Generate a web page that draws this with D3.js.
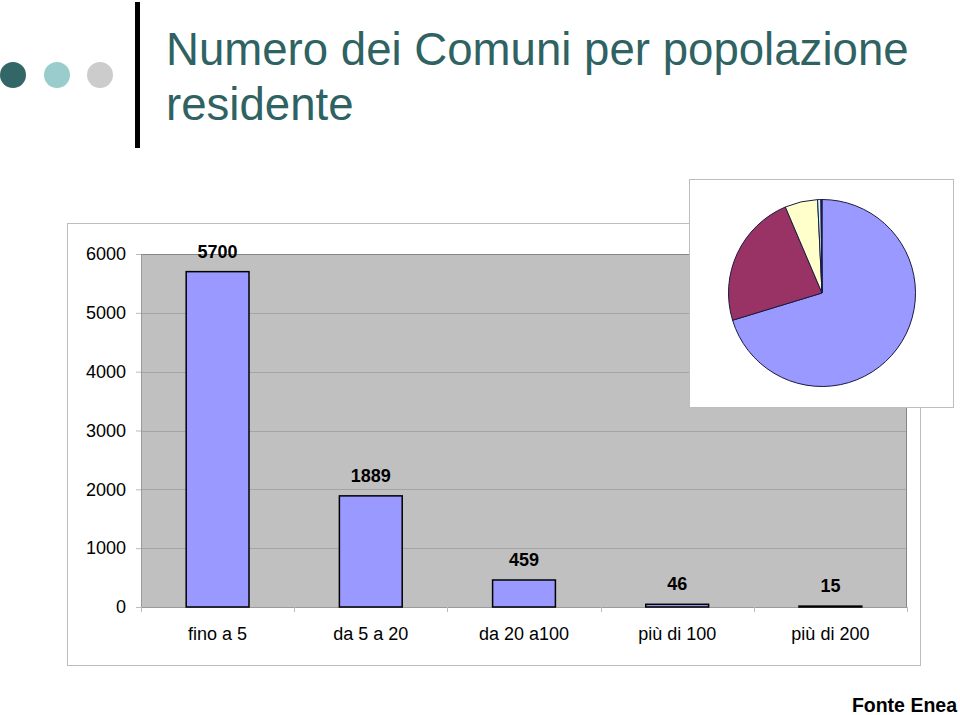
<!DOCTYPE html>
<html>
<head>
<meta charset="utf-8">
<script src="https://cdn.jsdelivr.net/npm/d3@7"></script>
<style>
  body { margin: 0; background: #fff; }
  svg { display: block; font-family: "Liberation Sans", Arial, sans-serif; }
</style>
</head>
<body>
<svg id="chart" width="960" height="715"></svg>
<script>
// data
var categories = ["fino a 5", "da 5 a 20", "da 20 a100", "più di 100", "più di 200"];
var comuni = [5700, 1889, 459, 46, 15];
var yTicks = [0, 1000, 2000, 3000, 4000, 5000, 6000];
var pieColors = ["#9999ff", "#993366", "#ffffcc", "#ccffff", "#660066"];
var titleLines = ["Numero dei Comuni per popolazione", "residente"];

var svg = d3.select("#chart");

// header: dots, bar, title
var dots = [
  { cx: 13, fill: "#336666" },
  { cx: 57, fill: "#99cccc" },
  { cx: 100, fill: "#cccccc" }
];
svg.selectAll(".dot")
  .data(dots)
  .enter().append("circle")
  .attr("class", "dot")
  .attr("cx", function (d) { return d.cx; })
  .attr("cy", 75)
  .attr("r", 13)
  .style("fill", function (d) { return d.fill; });

svg.append("rect")
  .attr("x", 135).attr("y", 2)
  .attr("width", 5).attr("height", 146)
  .style("fill", "#000");

svg.selectAll(".title")
  .data(titleLines)
  .enter().append("text")
  .attr("class", "title")
  .attr("x", 166)
  .attr("y", function (d, i) { return 65 + i * 55; })
  .style("font-size", "45.6px")
  .style("fill", "#2f6262")
  .text(function (d) { return d; });

// outer chart box
svg.append("rect")
  .attr("x", 67.5).attr("y", 223.5)
  .attr("width", 853).attr("height", 442)
  .style("fill", "#fff")
  .style("stroke", "#bdbdbd");

var margin = { left: 141, top: 254, right: 907, bottom: 607 };

var x = d3.scaleBand()
  .domain(categories)
  .range([margin.left, margin.right])
  .paddingInner(0.59)
  .paddingOuter(0.295);

var y = d3.scaleLinear()
  .domain([0, 6000])
  .range([margin.bottom, margin.top]);

// plot area
svg.append("rect")
  .attr("x", margin.left).attr("y", margin.top)
  .attr("width", margin.right - margin.left)
  .attr("height", margin.bottom - margin.top)
  .style("fill", "#c0c0c0");

// gridlines
svg.selectAll(".grid")
  .data(yTicks.filter(function (d) { return d > 0; }))
  .enter().append("line")
  .attr("class", "grid")
  .attr("x1", margin.left).attr("x2", margin.right)
  .attr("y1", function (d) { return Math.round(y(d)) + 0.5; })
  .attr("y2", function (d) { return Math.round(y(d)) + 0.5; })
  .style("stroke", "#a4a4a4");

// plot border top/right
svg.append("path")
  .attr("d", "M" + margin.left + "," + (margin.top + 0.5) + "H" + (margin.right - 0.5) + "V" + margin.bottom)
  .style("fill", "none")
  .style("stroke", "#868686");

// y axis
var yAxis = d3.axisLeft(y).tickValues(yTicks).tickFormat(d3.format("d")).tickSize(5).tickPadding(10);
var gy = svg.append("g")
  .attr("transform", "translate(" + margin.left + ",0)")
  .call(yAxis);
gy.select(".domain").style("stroke", "#9a9a9a");
gy.selectAll(".tick line").style("stroke", "#bbbbbb");
gy.selectAll(".tick text")
  .style("font-size", "18px")
  .style("font-family", "Liberation Sans, Arial, sans-serif")
  .style("fill", "#000");

// x axis with ticks at category boundaries
var gx = svg.append("g")
  .attr("transform", "translate(0," + margin.bottom + ")");
gx.append("line")
  .attr("x1", margin.left).attr("x2", margin.right)
  .attr("y1", 0.5).attr("y2", 0.5)
  .style("stroke", "#9a9a9a");
var step = x.step();
svg.selectAll(".xtick")
  .data(d3.range(categories.length + 1))
  .enter().append("line")
  .attr("class", "xtick")
  .attr("x1", function (i) { return Math.round(margin.left + i * step) + 0.5; })
  .attr("x2", function (i) { return Math.round(margin.left + i * step) + 0.5; })
  .attr("y1", margin.bottom).attr("y2", margin.bottom + 5)
  .style("stroke", "#bbbbbb");
svg.selectAll(".xlabel")
  .data(categories)
  .enter().append("text")
  .attr("class", "xlabel")
  .attr("x", function (d) { return x(d) + x.bandwidth() / 2; })
  .attr("y", margin.bottom + 33)
  .attr("text-anchor", "middle")
  .style("font-size", "18px")
  .text(function (d) { return d; });

// bars
svg.selectAll(".bar")
  .data(comuni)
  .enter().append("rect")
  .attr("class", "bar")
  .attr("x", function (d, i) { return x(categories[i]); })
  .attr("y", function (d) { return y(d); })
  .attr("width", x.bandwidth())
  .attr("height", function (d) { return y(0) - y(d); })
  .style("fill", "#9999ff")
  .style("stroke", "#000")
  .style("stroke-width", 1.5);

svg.selectAll(".val")
  .data(comuni)
  .enter().append("text")
  .attr("class", "val")
  .attr("x", function (d, i) { return x(categories[i]) + x.bandwidth() / 2; })
  .attr("y", function (d) { return y(d) - 14; })
  .attr("text-anchor", "middle")
  .style("font-size", "18px")
  .style("font-weight", "bold")
  .text(function (d) { return d; });

// pie inset
svg.append("rect")
  .attr("x", 689.5).attr("y", 179.5)
  .attr("width", 264).attr("height", 228)
  .style("fill", "#fff")
  .style("stroke", "#bdbdbd");

var pie = d3.pie().sort(null);
var arc = d3.arc().innerRadius(0).outerRadius(93.5);
svg.append("g")
  .attr("transform", "translate(822,293)")
  .selectAll("path")
  .data(pie(comuni))
  .enter().append("path")
  .attr("d", arc)
  .style("fill", function (d, i) { return pieColors[i]; })
  .style("stroke", "#1a1a40")
  .style("stroke-width", 1);

// source note
svg.append("text")
  .attr("x", 957).attr("y", 712)
  .attr("text-anchor", "end")
  .style("font-size", "19.5px")
  .style("font-weight", "bold")
  .text("Fonte Enea");
</script>
</body>
</html>
